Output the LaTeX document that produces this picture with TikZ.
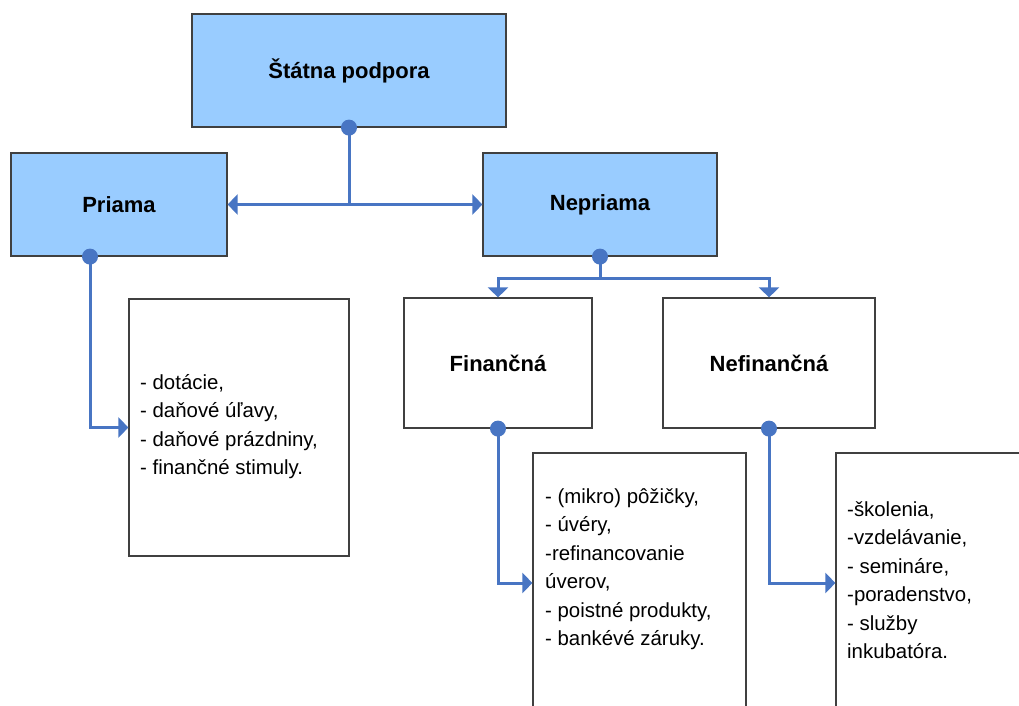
\documentclass[tikz,border=0pt]{standalone}
\usepackage{fontspec}
\setmainfont{Liberation Sans}
\usetikzlibrary{arrows.meta}
\usetikzlibrary{positioning}
\definecolor{boxblue}{RGB}{153,204,255}
\definecolor{linkblue}{RGB}{72,117,195}
\definecolor{edgegray}{RGB}{64,64,64}
\tikzset{
  headbox/.style={draw=edgegray, line width=1.2pt, fill=boxblue, inner sep=0pt,
    font=\bfseries\fontsize{22}{26}\selectfont},
  subbox/.style={draw=edgegray, line width=1.2pt, fill=white, inner sep=0pt,
    font=\bfseries\fontsize{22}{26}\selectfont},
  listbox/.style={draw=edgegray, line width=1.2pt, fill=white},
  listtext/.style={font=\fontsize{20.4}{28.5}\selectfont, align=left, inner sep=0pt, anchor=base west},
  link/.style={linkblue, line width=3pt},
  linkarrow/.style={link, -{Triangle[length=10pt,width=20pt]}},
}
\begin{document}
\begin{tikzpicture}[x=1pt, y=-1pt]
    \useasboundingbox (0,0) rectangle (1019,706);
    \clip (0,0) rectangle (1019,706);
    % top levels
    \node[headbox, minimum width=314pt, minimum height=113pt] (statna) at (349,70.5) {Štátna podpora};
    \node[headbox, minimum width=216pt, minimum height=103pt] (priama) at (119,204.5) {Priama};
    \node[headbox, minimum width=234pt, minimum height=103pt] (nepriama) at (600,204.5) {Nepriama};
    \node[subbox, minimum width=188pt, minimum height=130pt] (financna) at (498,363) {Finančná};
    \node[subbox, minimum width=212pt, minimum height=130pt] (nefinancna) at (769,363) {Nefinančná};
    % lists (base = last line)
    \node[listbox, minimum width=220pt, minimum height=257pt] (priamalist) at (239,427.5) {};
    \node[listbox, minimum width=213pt, minimum height=260pt] (finlist) at (639.5,583) {};
    \node[listbox, minimum width=213pt, minimum height=260pt] (nefinlist) at (942.5,583) {};
    \node[listtext] (priamatext) at (140,474.5) {- dotácie,\\- daňové úľavy,\\- daňové prázdniny,\\- finančné stimuly.};
    \node[listtext] (fintext) at (545,645.5) {- (mikro) pôžičky,\\- úvéry,\\-refinancovanie\\úverov,\\- poistné produkty,\\- bankévé záruky.};
    \node[listtext] (nefintext) at (847,658.5) {-školenia,\\-vzdelávanie,\\- semináre,\\-poradenstvo,\\- služby\\inkubatóra.};
    % connectors
    \draw[linkarrow] (statna.south) |- (priama.east);
    \draw[linkarrow] (statna.south) |- (nepriama.west);
    \draw[linkarrow] (nepriama.south) -- ++(0,22) -| (financna.north);
    \draw[linkarrow] (nepriama.south) -- ++(0,22) -| (nefinancna.north);
    \draw[linkarrow] ([xshift=-29pt]priama.south) |- (priamalist.west);
    \draw[linkarrow] (financna.south) |- (finlist.west);
    \draw[linkarrow] (nefinancna.south) |- (nefinlist.west);
    \foreach \dot in {statna.south, nepriama.south, financna.south, nefinancna.south}
      \fill[linkblue] (\dot) circle (8pt);
    \fill[linkblue] ([xshift=-29pt]priama.south) circle (8pt);
\end{tikzpicture}
\end{document}
